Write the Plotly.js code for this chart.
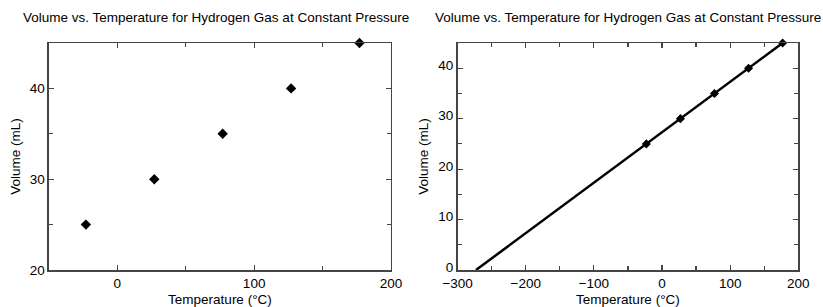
<!DOCTYPE html>
<html><head><meta charset="utf-8">
<script src="https://cdn.plot.ly/plotly-3.0.1.min.js"></script>
<style>body{margin:0;background:#fff}#c{width:823px;height:307px}</style>
</head><body><div id="c"></div>
<script>
const chartTitle = "Volume vs. Temperature for Hydrogen Gas at Constant Pressure";
const tempC = [-23, 27, 77, 127, 177];
const volumeML = [25, 30, 35, 40, 45];
const fitTemp = [-273, 177];
const fitVolume = [0, 45];

const font = {family: "Liberation Sans, Arial, sans-serif", size: 13.5, color: "#000"};
const axCommon = {
  showline: true, linecolor: "#444", linewidth: 1.5, mirror: "allticks",
  ticks: "inside", ticklen: 5, tickwidth: 1.2, tickcolor: "#444",
  showgrid: false, zeroline: false, tickfont: {size: 13.5, color: "#000"},
  minor: {ticks: "inside", ticklen: 4, tickwidth: 1.2, tickcolor: "#444", showgrid: false}
};
const traces = [
  {x: tempC, y: volumeML, type: "scatter", mode: "markers", xaxis: "x", yaxis: "y",
   marker: {symbol: "diamond", size: 8, color: "#000"}, cliponaxis: false},
  {x: fitTemp, y: fitVolume, type: "scatter", mode: "lines", xaxis: "x2", yaxis: "y2",
   line: {color: "#000", width: 2.5}, cliponaxis: false},
  {x: tempC, y: volumeML, type: "scatter", mode: "markers", xaxis: "x2", yaxis: "y2",
   marker: {symbol: "diamond", size: 7, color: "#000"}, cliponaxis: false}
];
const layout = {
  width: 823, height: 307, showlegend: false, font: font,
  paper_bgcolor: "#fff", plot_bgcolor: "#fff",
  margin: {l: 0, r: 0, t: 43, b: 37},
  xaxis: Object.assign({}, axCommon, {domain: [0.0595, 0.475], range: [-50, 200], dtick: 100, tick0: 0,
    minor: Object.assign({}, axCommon.minor, {dtick: 50}),
    title: {text: "Temperature (°C)", font: {size: 13.5}, standoff: 5}}),
  yaxis: Object.assign({}, axCommon, {domain: [0, 1], range: [20, 45], dtick: 10, tick0: 0,
    minor: Object.assign({}, axCommon.minor, {dtick: 5}),
    title: {text: "Volume (mL)", font: {size: 13.5}, standoff: 6}}),
  xaxis2: Object.assign({}, axCommon, {domain: [0.556, 0.970], range: [-300, 200], dtick: 100, tick0: 0,
    anchor: "y2", minor: Object.assign({}, axCommon.minor, {dtick: 50}),
    title: {text: "Temperature (°C)", font: {size: 13.5}, standoff: 5}}),
  yaxis2: Object.assign({}, axCommon, {domain: [0, 1], range: [0, 45], dtick: 10, tick0: 0,
    anchor: "x2", ticklabelshift: -3, minor: Object.assign({}, axCommon.minor, {dtick: 5}),
    title: {text: "Volume (mL)", font: {size: 13.5}, standoff: 6}}),
  annotations: [
    {text: chartTitle, xref: "paper", yref: "paper", x: 0.262, y: 1, yshift: 26, showarrow: false,
     xanchor: "center", yanchor: "middle", font: {size: 13.5}},
    {text: chartTitle, xref: "paper", yref: "paper", x: 0.763, y: 1, yshift: 26, showarrow: false,
     xanchor: "center", yanchor: "middle", font: {size: 13.5}}
  ]
};
Plotly.newPlot("c", traces, layout, {staticPlot: true});
</script></body></html>
